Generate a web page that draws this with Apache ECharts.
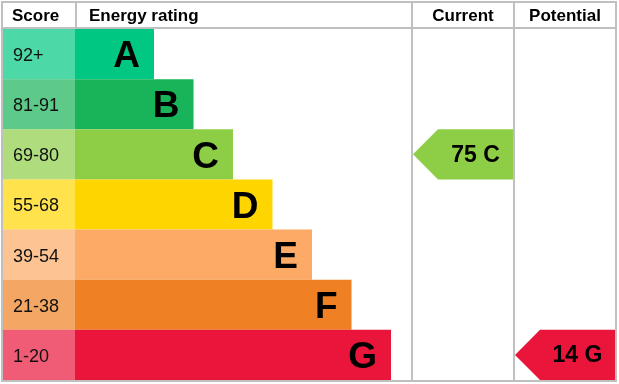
<!DOCTYPE html>
<html><head><meta charset="utf-8">
<script src="https://cdn.jsdelivr.net/npm/echarts@6/dist/echarts.min.js"></script>
<style>html,body{margin:0;padding:0;background:#fff}#c{width:619px;height:384px}</style>
</head><body><div id="c"></div>
<script>
// ---- data ----
const bands = ['A','B','C','D','E','F','G'];
const scoreRanges = ['92+','81-91','69-80','55-68','39-54','21-38','1-20'];
const barLengths = [2,3,4,5,6,7,8];
const scoreCellFill = [1,1,1,1,1,1,1];
const bandColors = ['#00c781','#19b459','#8dce46','#ffd500','#fcaa65','#ef8023','#e9153b'];
const currentScore = 75, currentBand = 'C';
const potentialScore = 14, potentialBand = 'G';
const headers = ['Score','Energy rating','Current','Potential'];

// ---- chart ----
const FONT = '"Liberation Sans", Arial, sans-serif';
const LINE = '#c0c0c0';
const chart = echarts.init(document.getElementById('c'), null, {renderer:'canvas'});
const top0 = 29, h0 = 351;
const grids = [
  {left:3, top:top0, width:72, height:h0},
  {left:75, top:top0, width:337, height:h0},
  {left:413, top:top0, width:100, height:h0},
  {left:515, top:top0, width:100, height:h0}
];
const xMax = [1, 337/39.5, 100, 100];
const xAxes = grids.map((g,i)=>({gridIndex:i, type:'value', min:0, max:xMax[i], show:false}));
const yAxes = grids.map((g,i)=>({gridIndex:i, type:'category', data:bands, inverse:true, show:false}));

function arrowRenderer(color, label){
  return function(params, api){
    const row = api.value(1);
    const c = api.coord([0,row]);
    const h = api.size([0,1])[1];
    const cs = params.coordSys;
    const x0 = cs.x, x1 = cs.x + cs.width;
    const t = c[1]-h/2, b = c[1]+h/2, sh = x0 + 25;
    return {type:'group', children:[
      {type:'polygon', shape:{points:[[x0,c[1]],[sh,t],[x1,t],[x1,b],[sh,b]]}, style:{fill:color}},
      {type:'text', style:{text:label, x:(sh+x1)/2, y:c[1]+1, align:'center', verticalAlign:'middle',
        font:'bold 23px ' + FONT, fill:'#000'}}
    ]};
  };
}
const ci = bands.indexOf(currentBand), pi = bands.indexOf(potentialBand);

const option = {
  animation:false,
  grid:grids, xAxis:xAxes, yAxis:yAxes,
  series:[
    {type:'bar', xAxisIndex:0, yAxisIndex:0, barCategoryGap:'0%',
      data:scoreCellFill.map((v,i)=>({value:v, itemStyle:{color:bandColors[i], opacity:0.7}})),
      label:{show:true, position:'insideLeft', distance:10, offset:[0,2], formatter:p=>scoreRanges[p.dataIndex],
        fontSize:18, fontFamily:FONT, color:'#111', opacity:1}},
    {type:'bar', xAxisIndex:1, yAxisIndex:1, barCategoryGap:'0%',
      data:barLengths.map((v,i)=>({value:v, itemStyle:{color:bandColors[i]}})),
      label:{show:true, position:'insideRight', distance:14, offset:[0,3], formatter:p=>bands[p.dataIndex],
        fontSize:37, fontWeight:'bold', fontFamily:FONT, color:'#000'}},
    {type:'custom', xAxisIndex:2, yAxisIndex:2, clip:false,
      data:[[currentScore, ci]], renderItem:arrowRenderer(bandColors[ci], currentScore+' '+currentBand)},
    {type:'custom', xAxisIndex:3, yAxisIndex:3, clip:false,
      data:[[potentialScore, pi]], renderItem:arrowRenderer(bandColors[pi], potentialScore+' '+potentialBand)}
  ],
  graphic:[
    {type:'rect', z:100, shape:{x:2,y:2,width:614,height:379}, style:{fill:null, stroke:LINE, lineWidth:2}},
    {type:'line', z:100, shape:{x1:2,y1:28,x2:616,y2:28}, style:{stroke:LINE, lineWidth:2}},
    {type:'line', z:100, shape:{x1:76,y1:2,x2:76,y2:28}, style:{stroke:LINE, lineWidth:2}},
    {type:'line', z:100, shape:{x1:412,y1:2,x2:412,y2:381}, style:{stroke:LINE, lineWidth:2}},
    {type:'line', z:100, shape:{x1:514,y1:2,x2:514,y2:381}, style:{stroke:LINE, lineWidth:2}},
    {type:'text', z:100, style:{text:headers[0], x:12, y:16, verticalAlign:'middle', font:'bold 17px '+FONT, fill:'#000'}},
    {type:'text', z:100, style:{text:headers[1], x:89, y:16, verticalAlign:'middle', font:'bold 17px '+FONT, fill:'#000'}},
    {type:'text', z:100, style:{text:headers[2], x:463, y:16, align:'center', verticalAlign:'middle', font:'bold 17px '+FONT, fill:'#000'}},
    {type:'text', z:100, style:{text:headers[3], x:565, y:16, align:'center', verticalAlign:'middle', font:'bold 17px '+FONT, fill:'#000'}}
  ]
};
chart.setOption(option);
</script></body></html>
